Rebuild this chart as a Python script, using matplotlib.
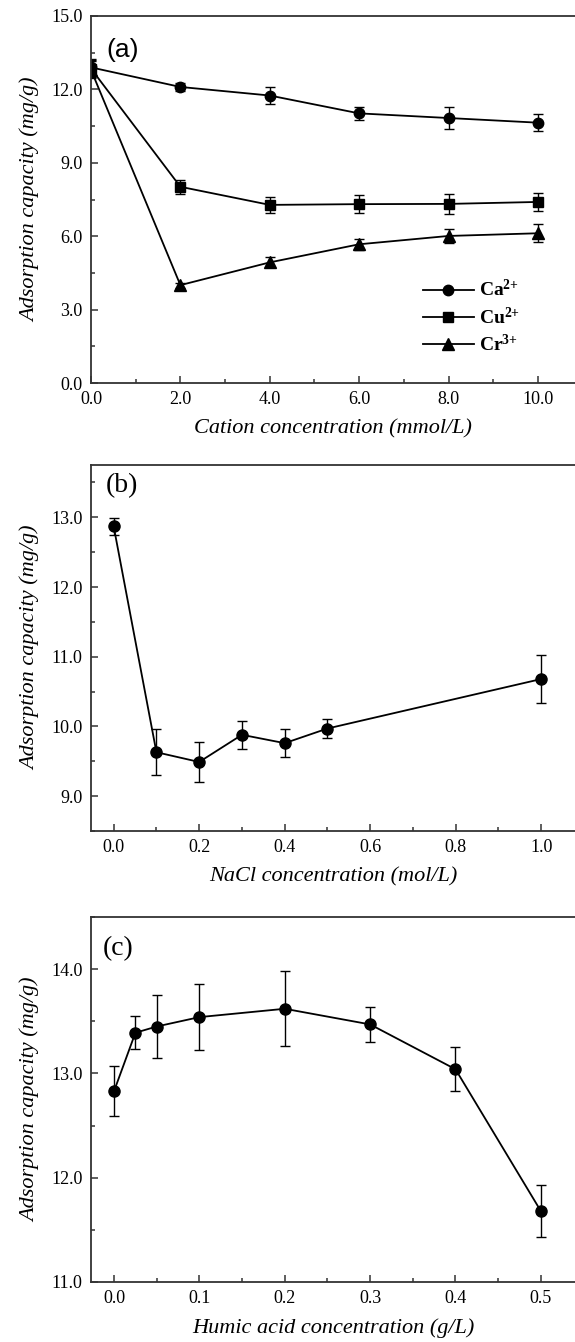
import matplotlib
matplotlib.use("Agg")
import matplotlib.pyplot as plt
from matplotlib.ticker import MultipleLocator, FormatStrFormatter

plt.rcParams['font.family'] = ['Liberation Serif', 'DejaVu Serif']
plt.rcParams['mathtext.default'] = 'regular'

# ---- Panel (a) data ----
cation_x = [0, 2, 4, 6, 8, 10]
ca_y = [12.90, 12.10, 11.75, 11.02, 10.83, 10.64]
ca_err = [0.35, 0.15, 0.36, 0.28, 0.44, 0.36]
cu_y = [12.85, 8.02, 7.28, 7.31, 7.32, 7.40]
cu_err = [0.35, 0.29, 0.33, 0.36, 0.40, 0.36]
cr_y = [12.80, 4.00, 4.93, 5.67, 6.01, 6.12]
cr_err = [0.35, 0.10, 0.20, 0.23, 0.30, 0.37]
legend_labels = ['Ca$^{2{+}}$', 'Cu$^{2{+}}$', 'Cr$^{3{+}}$']

# ---- Panel (b) data ----
nacl_x = [0.0, 0.1, 0.2, 0.3, 0.4, 0.5, 1.0]
nacl_y = [12.87, 9.63, 9.49, 9.88, 9.76, 9.97, 10.68]
nacl_err = [0.12, 0.33, 0.29, 0.20, 0.20, 0.13, 0.34]

# ---- Panel (c) data ----
ha_x = [0.0, 0.025, 0.05, 0.1, 0.2, 0.3, 0.4, 0.5]
ha_y = [12.83, 13.39, 13.45, 13.54, 13.62, 13.47, 13.04, 11.68]
ha_err = [0.24, 0.16, 0.30, 0.32, 0.36, 0.17, 0.21, 0.25]

W, H = 575, 1342
fig = plt.figure(figsize=(W / 100, H / 100), dpi=100)

left = 91 / W
width = 1 - left

def ax_at(top_px, bot_px):
    return fig.add_axes([left, 1 - bot_px / H, width, (bot_px - top_px) / H])

ax_a = ax_at(16, 383)
ax_b = ax_at(465, 831)
ax_c = ax_at(917, 1282)

spine_col = '#333333'
tick_fs = 13
label_fs = 16

def style(ax):
    ax.spines['right'].set_visible(False)
    for s in ['left', 'bottom', 'top']:
        ax.spines[s].set_color(spine_col)
        ax.spines[s].set_linewidth(1.3)
    ax.tick_params(which='both', direction='in', top=False, right=False,
                   labelsize=tick_fs, color=spine_col)
    ax.tick_params(which='major', length=5, width=1.1, pad=6)
    ax.tick_params(which='minor', length=3, width=1.1)
    ax.set_ylabel('Adsorption capacity (mg/g)', fontsize=label_fs, style='italic',
                  labelpad=8)

ekw = dict(color='black', lw=1.3, capsize=3.3, elinewidth=1.0, capthick=1.0)

# Panel (a)
ax_a.errorbar(cation_x, ca_y, yerr=ca_err, marker='o', ms=7.5, label=legend_labels[0], **ekw)
ax_a.errorbar(cation_x, cu_y, yerr=cu_err, marker='s', ms=6.5, label=legend_labels[1], **ekw)
ax_a.errorbar(cation_x, cr_y, yerr=cr_err, marker='^', ms=8, label=legend_labels[2], **ekw)
ax_a.set_xlim(0, 10.83)
ax_a.set_ylim(0, 15)
ax_a.xaxis.set_major_locator(MultipleLocator(2))
ax_a.xaxis.set_minor_locator(MultipleLocator(1))
ax_a.yaxis.set_major_locator(MultipleLocator(3))
ax_a.yaxis.set_minor_locator(MultipleLocator(1.5))
ax_a.xaxis.set_major_formatter(FormatStrFormatter('%.1f'))
ax_a.yaxis.set_major_formatter(FormatStrFormatter('%.1f'))
style(ax_a)
ax_a.set_xlabel('Cation concentration (mmol/L)', fontsize=label_fs, style='italic',
                labelpad=8)
ax_a.text(0.031, 0.94, '(a)', transform=ax_a.transAxes, fontsize=19,
          family='Liberation Sans', va='top', ha='left')
handles, labels = ax_a.get_legend_handles_labels()
handles = [h[0] for h in handles]
ax_a.legend(handles, labels, loc='upper left', bbox_to_anchor=(0.65, 0.33),
            frameon=False, handlelength=2.6, labelspacing=0.3, handletextpad=0.3,
            prop={'family': 'Liberation Serif', 'weight': 'bold', 'size': 14})

# Panel (b)
ax_b.errorbar(nacl_x, nacl_y, yerr=nacl_err, marker='o', ms=8, **ekw)
ax_b.set_xlim(-0.053, 1.079)
ax_b.set_ylim(8.5, 13.75)
ax_b.xaxis.set_major_locator(MultipleLocator(0.2))
ax_b.xaxis.set_minor_locator(MultipleLocator(0.1))
ax_b.yaxis.set_major_locator(MultipleLocator(1.0))
ax_b.yaxis.set_minor_locator(MultipleLocator(0.5))
ax_b.xaxis.set_major_formatter(FormatStrFormatter('%.1f'))
ax_b.yaxis.set_major_formatter(FormatStrFormatter('%.1f'))
style(ax_b)
ax_b.set_xlabel('NaCl concentration (mol/L)', fontsize=label_fs, style='italic',
                labelpad=8)
ax_b.text(0.03, 0.978, '(b)', transform=ax_b.transAxes, fontsize=20,
          va='top', ha='left')

# Panel (c)
ax_c.errorbar(ha_x, ha_y, yerr=ha_err, marker='o', ms=8, **ekw)
ax_c.set_xlim(-0.027, 0.54)
ax_c.set_ylim(11.0, 14.5)
ax_c.xaxis.set_major_locator(MultipleLocator(0.1))
ax_c.xaxis.set_minor_locator(MultipleLocator(0.05))
ax_c.yaxis.set_major_locator(MultipleLocator(1.0))
ax_c.yaxis.set_minor_locator(MultipleLocator(0.5))
ax_c.xaxis.set_major_formatter(FormatStrFormatter('%.1f'))
ax_c.yaxis.set_major_formatter(FormatStrFormatter('%.1f'))
style(ax_c)
ax_c.set_xlabel('Humic acid concentration (g/L)', fontsize=label_fs, style='italic',
                labelpad=8)
ax_c.text(0.025, 0.948, '(c)', transform=ax_c.transAxes, fontsize=20,
          va='top', ha='left')

fig.savefig('out.png', dpi=100)
